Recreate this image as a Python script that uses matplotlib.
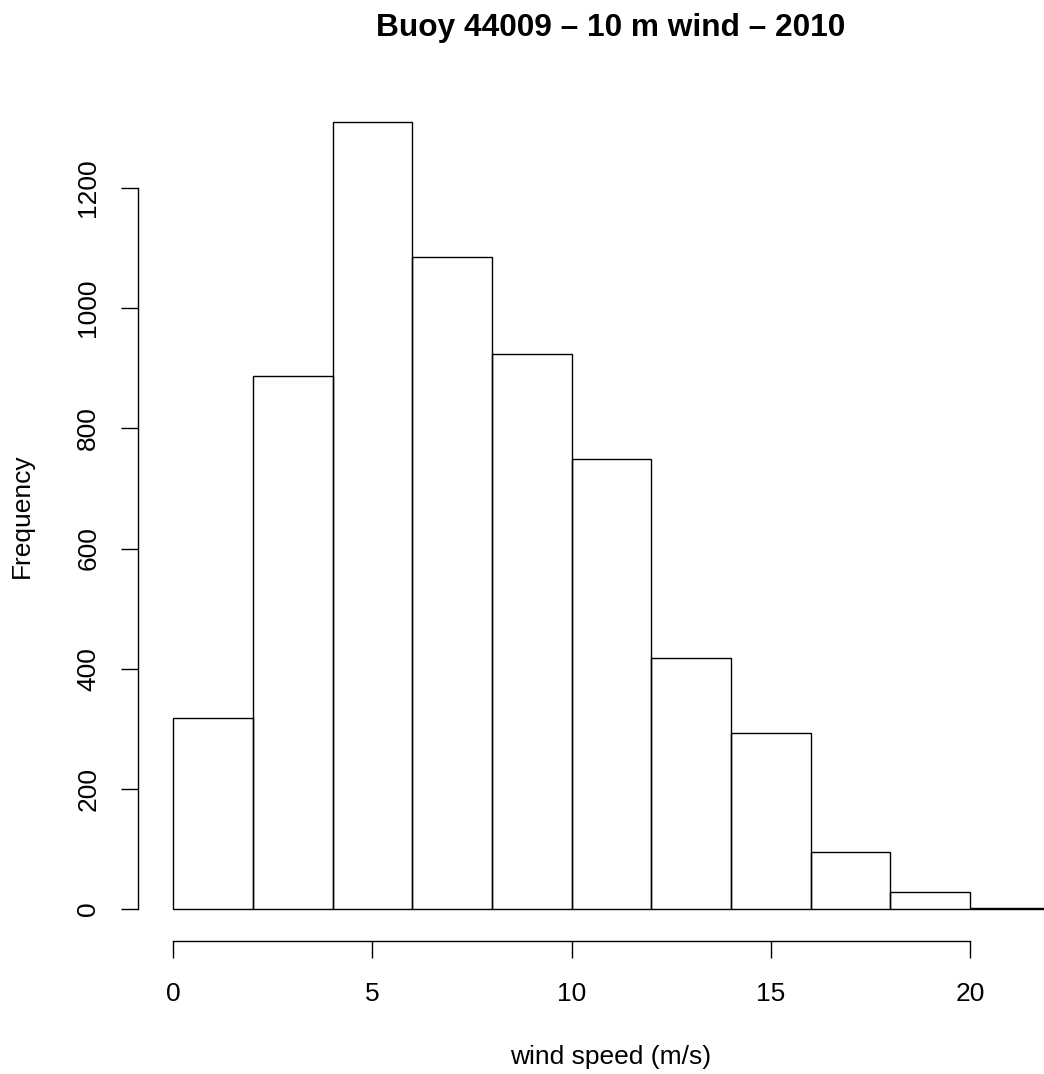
import numpy as np
import matplotlib.pyplot as plt

plt.rcParams['font.family'] = ['Liberation Sans', 'DejaVu Sans']

# histogram of 10 m wind speed, bins of 2 m/s
edges = [0, 2, 4, 6, 8, 10, 12, 14, 16, 18, 20, 22]
counts = [318, 887, 1310, 1085, 924, 749, 418, 293, 95, 28, 2]
xticks = [0, 5, 10, 15, 20]
yticks = [0, 200, 400, 600, 800, 1000, 1200]

W, H = 1044, 1074
fig = plt.figure(figsize=(W / 100, H / 100), dpi=100)
# plot region in pixels (R style, 4% padding); right side runs off the figure
left, right, top, bottom = 138, 1085, 90.5, 940.5
ax = fig.add_axes([left / W, (H - bottom) / H, (right - left) / W, (bottom - top) / H])

ax.bar(edges[:-1], counts, width=np.diff(edges), align='edge',
       fill=False, edgecolor='black', linewidth=1.0)

xr = edges[-1] - edges[0]
ax.set_xlim(edges[0] - 0.04 * xr, edges[-1] + 0.04 * xr)
ymax = max(counts)
ax.set_ylim(-0.04 * ymax, ymax * 1.04)

for s in ['top', 'right']:
    ax.spines[s].set_visible(False)
ax.spines['left'].set_bounds(yticks[0], yticks[-1])
ax.spines['bottom'].set_bounds(xticks[0], xticks[-1])
for s in ['left', 'bottom']:
    ax.spines[s].set_linewidth(1.0)

ax.set_xticks(xticks)
ax.set_yticks(yticks)
ax.set_yticklabels([str(v) for v in yticks], rotation=90, va='center')
ax.tick_params(axis='both', length=12.2, width=1.0, labelsize=19, colors='black')
ax.tick_params(axis='x', pad=18)
ax.tick_params(axis='y', pad=15)

fig.text(611 / W, 1 - 28 / H, 'Buoy 44009 \u2013 10 m wind \u2013 2010',
         ha='center', va='center', fontsize=22.8, fontweight='bold')
fig.text(611 / W, 1 - 1057 / H, 'wind speed (m/s)', ha='center', va='center', fontsize=19)
fig.text(22 / W, 1 - 516 / H, 'Frequency', ha='center', va='center',
         rotation=90, fontsize=19)

fig.savefig('out.png', dpi=100)
